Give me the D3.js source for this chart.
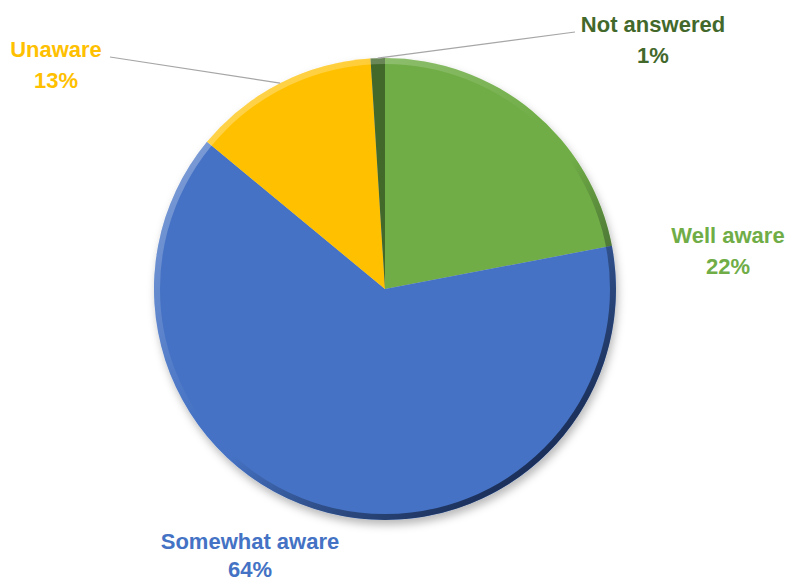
<!DOCTYPE html>
<html>
<head>
<meta charset="utf-8">
<script src="https://cdn.jsdelivr.net/npm/d3@7"></script>
<style>
  html, body { margin: 0; padding: 0; background: #ffffff; }
  svg { display: block; }
  text { font-family: "Liberation Sans", Arial, sans-serif; font-weight: bold; }
</style>
</head>
<body>
<svg id="chart" width="790" height="583"></svg>
<script>
// Survey responses: awareness level
const categories = ["Well aware", "Somewhat aware", "Unaware", "Not answered"];
const shares = [22, 64, 13, 1];
const sliceColors = ["#70AD47", "#4472C4", "#FFC000", "#43682B"];

// Label placement (label centre x, first baseline y, line gap)
const labelPos = [
  [728, 243, 31],
  [250, 549, 28],
  [56, 57, 31],
  [653, 32, 31]
];

const width = 790, height = 583;
const cx = 385, cy = 289, radius = 231;

const svg = d3.select("#chart");
const defs = svg.append("defs");

// soft drop shadow under the pie
const shadow = defs.append("filter").attr("id", "pieShadow")
  .attr("x", "-20%").attr("y", "-20%").attr("width", "140%").attr("height", "140%");
shadow.append("feDropShadow")
  .attr("dx", 2).attr("dy", 5).attr("stdDeviation", 4)
  .attr("flood-color", "#000").attr("flood-opacity", 0.28);

// bevel rim: light towards top-left, dark towards bottom-right
const rim = defs.append("linearGradient").attr("id", "rim")
  .attr("x1", "0.15").attr("y1", "0.1").attr("x2", "0.85").attr("y2", "0.9");
rim.append("stop").attr("offset", "0").attr("stop-color", "#fff").attr("stop-opacity", 0.3);
rim.append("stop").attr("offset", "0.45").attr("stop-color", "#fff").attr("stop-opacity", 0);
rim.append("stop").attr("offset", "0.55").attr("stop-color", "#000").attr("stop-opacity", 0);
rim.append("stop").attr("offset", "1").attr("stop-color", "#0a1530").attr("stop-opacity", 0.75);

const color = d3.scaleOrdinal().domain(categories).range(sliceColors);

const data = categories.map((c, i) => ({ name: c, value: shares[i], label: labelPos[i] }));

const pie = d3.pie().value(d => d.value).sort(null);
const arcs = pie(data);
const arc = d3.arc().innerRadius(0).outerRadius(radius);
const edgeArc = d3.arc().innerRadius(radius).outerRadius(radius);

const g = svg.append("g").attr("transform", `translate(${cx},${cy})`);

const pieGroup = g.append("g").attr("filter", "url(#pieShadow)");
pieGroup.selectAll("path.slice")
  .data(arcs)
  .join("path")
  .attr("class", "slice")
  .attr("d", arc)
  .attr("fill", d => color(d.data.name));

g.append("circle")
  .attr("r", radius - 3)
  .attr("fill", "none")
  .attr("stroke", "url(#rim)")
  .attr("stroke-width", 6);

// leader lines for the small slices near the top
const leaders = [
  { name: "Unaware", from: [110, 57] },
  { name: "Not answered", from: [575, 32] }
];
leaders.forEach(l => {
  const a = arcs.find(d => d.data.name === l.name);
  const [ex, ey] = edgeArc.centroid(a);
  svg.append("line")
    .attr("x1", l.from[0]).attr("y1", l.from[1])
    .attr("x2", cx + ex).attr("y2", cy + ey)
    .attr("stroke", "#a6a6a6")
    .attr("stroke-width", 1.2);
});

// category labels with percentages
const labels = svg.selectAll("text.lbl")
  .data(arcs)
  .join("text")
  .attr("class", "lbl")
  .attr("text-anchor", "middle")
  .attr("font-size", 22)
  .attr("fill", d => color(d.data.name));

labels.append("tspan")
  .attr("x", d => d.data.label[0])
  .attr("y", d => d.data.label[1])
  .text(d => d.data.name);
labels.append("tspan")
  .attr("x", d => d.data.label[0])
  .attr("y", d => d.data.label[1] + d.data.label[2])
  .text(d => d.data.value + "%");
</script>
</body>
</html>
